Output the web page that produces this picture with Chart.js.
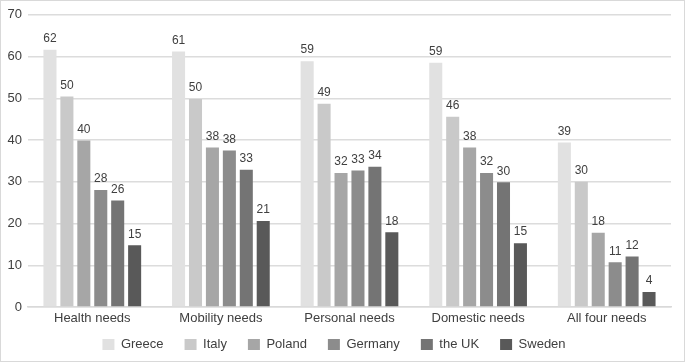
<!DOCTYPE html>
<html>
<head>
<meta charset="utf-8">
<script src="https://cdn.jsdelivr.net/npm/chart.js@4"></script>
<style>
    html, body { margin: 0; padding: 0; background: #fff; }
    #wrap {
        width: 685px; height: 362px;
        box-sizing: border-box;
        border: 1px solid #d9d9d9;
        position: relative;
    }
</style>
</head>
<body>
<div id="wrap"><canvas id="chart"></canvas></div>
<script>
    // categories on the x axis
    const needs = ["Health needs", "Mobility needs", "Personal needs", "Domestic needs", "All four needs"]

    // one array per country (labels show rounded values)
    const greece = [61.6, 61.2, 58.9, 58.5, 39.4]
    const italy = [50.4, 49.8, 48.7, 45.6, 30.0]
    const poland = [39.9, 38.2, 32.1, 38.2, 17.8]
    const germany = [28.0, 37.5, 32.7, 32.1, 10.7]
    const theUK = [25.5, 32.9, 33.6, 29.9, 12.1]
    const sweden = [14.8, 20.6, 17.9, 15.3, 3.6]

    const countries = ["Greece", "Italy", "Poland", "Germany", "the UK", "Sweden"]
    const series = [greece, italy, poland, germany, theUK, sweden]
    const greys = ["#e1e1e1", "#c9c9c9", "#a6a6a6", "#8c8c8c", "#747474", "#595959"]

    // y ticks
    const yMin = 0
    const yMax = 70
    const yStep = 10

    const fontFamily = "'Liberation Sans', Arial, sans-serif"
    const textColor = "#404040"

    // draw the rounded value above each bar
    const valueLabels = {
        id: "valueLabels",
        afterLayout(chart) {
            // nudge the legend a little to the left, like the original
            if (chart.legend) {
                chart.legend.left -= 5
                chart.legend.right -= 5
            }
        },
        afterDatasetsDraw(chart) {
            const ctx = chart.ctx
            ctx.save()
            ctx.font = `12px ${fontFamily}`
            ctx.fillStyle = textColor
            ctx.textAlign = "center"
            ctx.textBaseline = "bottom"
            chart.data.datasets.forEach((ds, i) => {
                const meta = chart.getDatasetMeta(i)
                meta.data.forEach((bar, j) => {
                    ctx.fillText(Math.round(ds.data[j]).toString(), bar.x, bar.y - 5)
                })
            })
            ctx.restore()
        }
    }

    const datasets = countries.map((name, i) => ({
        label: name,
        data: series[i],
        backgroundColor: greys[i],
        borderWidth: 0,
        categoryPercentage: 0.79,
        barPercentage: 0.77
    }))

    new Chart(document.getElementById("chart"), {
        type: "bar",
        data: { labels: needs, datasets: datasets },
        options: {
            responsive: true,
            maintainAspectRatio: false,
            animation: false,
            layout: { padding: { left: 6, right: 13, top: 13, bottom: 0 } },
            plugins: {
                legend: {
                    position: "bottom",
                    labels: {
                        boxWidth: 12,
                        boxHeight: 11,
                        padding: 21,
                        color: textColor,
                        font: { family: fontFamily, size: 13 }
                    }
                },
                tooltip: { enabled: false }
            },
            scales: {
                x: {
                    grid: { display: false, drawTicks: false },
                    border: { color: "#d9d9d9", width: 1.5 },
                    ticks: { color: textColor, padding: 4, font: { family: fontFamily, size: 13 } },
                    afterFit(scale) {
                        // keep the axis box short so the legend sits close, and don't clip the labels
                        scale.height = 10
                        scale._computeLabelArea = () => undefined
                    }
                },
                y: {
                    min: yMin,
                    max: yMax,
                    grid: { color: "#dcdcdc", lineWidth: 1.5, drawTicks: false },
                    border: { display: false },
                    ticks: { stepSize: yStep, color: textColor, padding: 6, font: { family: fontFamily, size: 13 } },
                    afterFit(scale) { scale.width = 21 }
                }
            }
        },
        plugins: [valueLabels]
    })
</script>
</body>
</html>
